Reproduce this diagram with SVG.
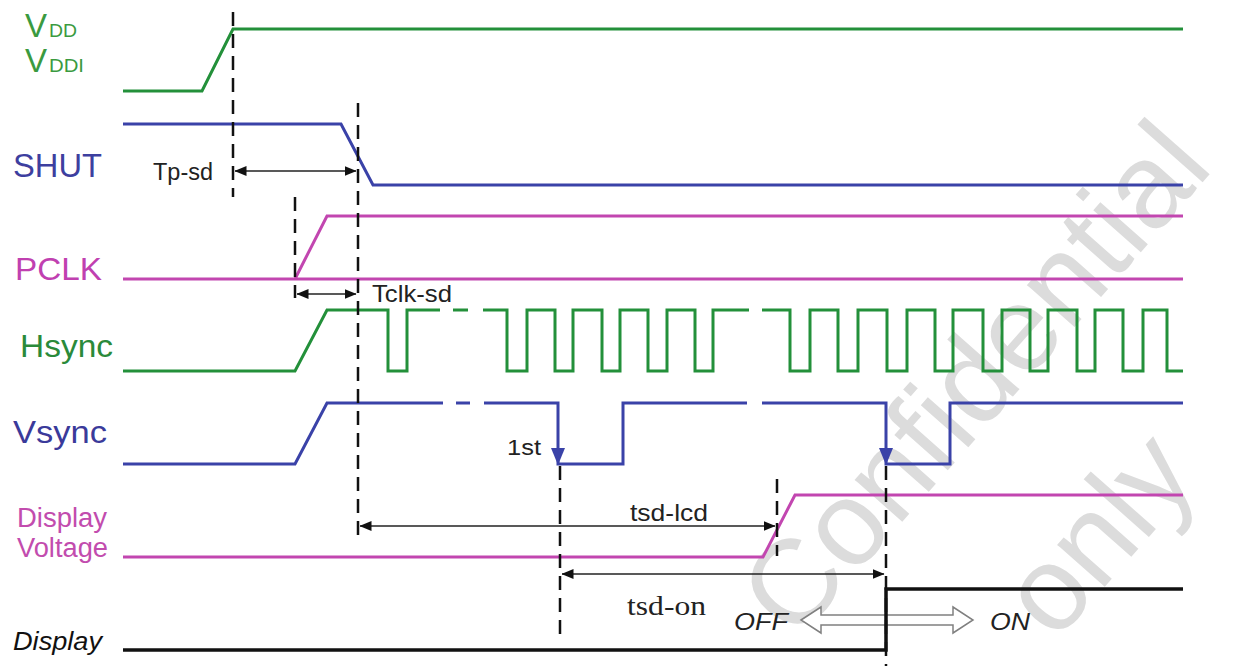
<svg xmlns="http://www.w3.org/2000/svg" width="1239" height="666" viewBox="0 0 1239 666">
<defs>
<marker id="ah" viewBox="0 0 12 10" refX="11.5" refY="5" markerWidth="12" markerHeight="10" markerUnits="userSpaceOnUse" orient="auto-start-reverse">
<path d="M0,0 L12,5 L0,10 Z" fill="#111"/>
</marker>
<style>
.sig{fill:none;stroke-width:3;stroke-linejoin:miter;stroke-linecap:butt}
.g{stroke:#23903a}
.b{stroke:#3a42a8}
.m{stroke:#c246b0}
.k{stroke:#111;stroke-width:3.5}
.dash{fill:none;stroke:#111;stroke-width:2.5;stroke-dasharray:14 8}
.dim{fill:none;stroke:#222;stroke-width:1.5;marker-start:url(#ah);marker-end:url(#ah)}
.lbl{font-family:"Liberation Sans",Arial,sans-serif}
.note{font-family:"Liberation Sans",Arial,sans-serif;fill:#222}
.wm{font-family:"Liberation Sans",Arial,sans-serif;font-size:120px;fill:#dcdcdc}
</style>
</defs>
<rect width="1239" height="666" fill="#ffffff"/>
<g id="watermark">
<text class="wm" transform="translate(795,643) rotate(-48.5)">Confidential</text>
<text class="wm" transform="translate(1055,643) rotate(-48.5)">only</text>
</g>
<g id="vdd">
<text class="lbl" x="25" y="37" font-size="33" fill="#3a9a40">V</text>
<text class="lbl" x="49" y="37" font-size="18" fill="#3a9a40" textLength="28" lengthAdjust="spacingAndGlyphs">DD</text>
<text class="lbl" x="25" y="72" font-size="33" fill="#3a9a40">V</text>
<text class="lbl" x="49" y="72" font-size="18" fill="#3a9a40" textLength="35" lengthAdjust="spacingAndGlyphs">DDI</text>
<path class="sig g" d="M123,91 L202,91 L233,29 L1183,29"/>
</g>
<g id="shut">
<text class="lbl" x="13" y="177" font-size="33" fill="#3d3f9f" textLength="89" lengthAdjust="spacingAndGlyphs">SHUT</text>
<path class="sig b" d="M123,124 L341,124 L373,185 L1183,185"/>
</g>
<g id="pclk">
<text class="lbl" x="15" y="280" font-size="32" fill="#c040b0" textLength="87" lengthAdjust="spacingAndGlyphs">PCLK</text>
<path class="sig m" d="M123,279 L1183,279 M295,279 L327,216 L1183,216"/>
</g>
<g id="hsync">
<text class="lbl" x="20" y="357" font-size="32" fill="#2a8a3a" textLength="93" lengthAdjust="spacingAndGlyphs">Hsync</text>
<path class="sig g" d="M123,371 L295,371 L327,310 L388,310 L388,371 L407,371 L407,310 L440,310 M453,310 L468,310 M483,310 L507,310 L507,371 L527,371 L527,310 L555,310 L555,371 L573,371 L573,310 L602,310 L602,371 L620,371 L620,310 L648,310 L648,371 L667,371 L667,310 L695,310 L695,371 L713,371 L713,310 L749,310 M762,310 L790,310 L790,371 L810,371 L810,310 L838,310 L838,371 L858,371 L858,310 L887,310 L887,371 L907,371 L907,310 L935,310 L935,371 L953,371 L953,310 L983,310 L983,371 L1002,371 L1002,310 L1030,310 L1030,371 L1048,371 L1048,310 L1077,310 L1077,371 L1095,371 L1095,310 L1123,310 L1123,371 L1143,371 L1143,310 L1167,310 L1167,371 L1183,371"/>
</g>
<g id="vsync">
<text class="lbl" x="13" y="443" font-size="32" fill="#3a3a9a" textLength="94" lengthAdjust="spacingAndGlyphs">Vsync</text>
<path class="sig b" d="M123,464 L295,464 L327,403 L443,403 M456,403 L470,403 M484,403 L558,403 L558,464 L623,464 L623,403 L747,403 M762,403 L886,403 L886,464 L950,464 L950,403 L1183,403"/>
<polygon points="551,448 565,448 558,465" fill="#3a42a8"/>
<polygon points="879,448 893,448 886,465" fill="#3a42a8"/>
<text class="note" x="507" y="455" font-size="22" textLength="34" lengthAdjust="spacingAndGlyphs">1st</text>
</g>
<g id="display-voltage">
<text class="lbl" x="17" y="527" font-size="27" fill="#c24cae" textLength="90" lengthAdjust="spacingAndGlyphs">Display</text>
<text class="lbl" x="17" y="557" font-size="27" fill="#c24cae" textLength="91" lengthAdjust="spacingAndGlyphs">Voltage</text>
<path class="sig m" d="M123,557 L763,557 L795,495 L1183,495"/>
</g>
<g id="off-on">
<polygon points="801,620 821,607 821,615 953,615 953,607 973,620 953,633 953,625 821,625 821,633" fill="#ffffff" stroke="#808080" stroke-width="1.5"/>
<text class="note" x="734" y="630" font-size="24" font-style="italic" textLength="54" lengthAdjust="spacingAndGlyphs">OFF</text>
<text class="note" x="990" y="630" font-size="24" font-style="italic" textLength="40" lengthAdjust="spacingAndGlyphs">ON</text>
</g>
<g id="display">
<text class="lbl" x="13" y="650" font-size="26" font-style="italic" fill="#111" textLength="89" lengthAdjust="spacingAndGlyphs">Display</text>
<path class="sig k" d="M123,650 L886,650 L886,589 L1183,589"/>
</g>
<g id="connectors">
<line class="dash" x1="233" y1="12" x2="233" y2="197"/>
<line class="dash" x1="358" y1="103" x2="358" y2="537"/>
<line class="dash" x1="295" y1="197" x2="295" y2="298"/>
<line class="dash" x1="560" y1="466" x2="560" y2="640"/>
<line class="dash" x1="777" y1="479" x2="777" y2="556"/>
<line class="dash" x1="886" y1="466" x2="886" y2="666"/>
<line class="dim" x1="235" y1="171" x2="356" y2="171"/>
<line class="dim" x1="297" y1="294" x2="356" y2="294"/>
<line class="dim" x1="360" y1="526" x2="775" y2="526"/>
<line class="dim" x1="562" y1="574" x2="884" y2="574"/>
<text class="note" x="153" y="180" font-size="23" textLength="60" lengthAdjust="spacingAndGlyphs">Tp-sd</text>
<text class="note" x="372" y="302" font-size="24" textLength="80" lengthAdjust="spacingAndGlyphs">Tclk-sd</text>
<text class="note" x="630" y="521" font-size="24" textLength="78" lengthAdjust="spacingAndGlyphs">tsd-lcd</text>
<text x="627" y="615" font-family="'Liberation Serif','Times New Roman',serif" font-size="27" fill="#222" textLength="79" lengthAdjust="spacingAndGlyphs">tsd-on</text>
</g>
</svg>
